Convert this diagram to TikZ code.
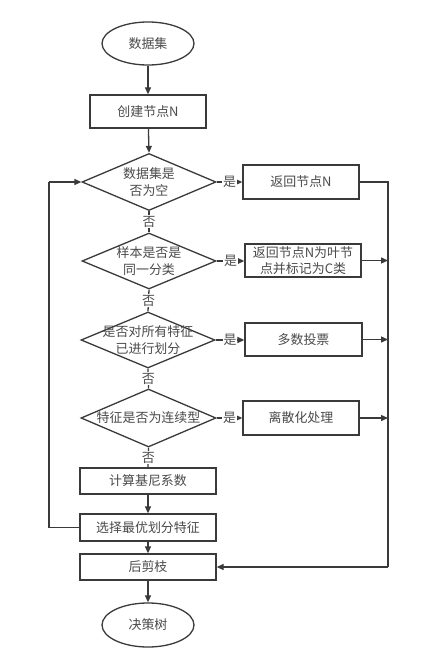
\documentclass[tikz,border=0pt]{standalone}
\usepackage{fontspec}
\newfontfamily\cjk{Noto Sans CJK SC}
\usetikzlibrary{shapes.geometric,arrows.meta}
\definecolor{ln}{HTML}{3A3A3A}
\definecolor{tx}{HTML}{4A4A4A}
\begin{document}
\begin{tikzpicture}[x=1bp,y=-1bp,
  every node/.style={font=\cjk\fontsize{13}{16.5}\selectfont, text=tx},
  conn/.style={draw=ln, line width=1.3bp},
  arr/.style={conn, -{Triangle[length=7bp,width=6bp]}},
  oval/.style={ellipse, draw=ln, line width=1.3bp, inner sep=0pt},
  boxx/.style={rectangle, draw=ln, line width=1.3bp, inner sep=0pt},
  dia/.style={diamond, draw=ln, line width=1.3bp, inner sep=0pt},
  txt/.style={inner sep=0pt, align=center},
  lab/.style={fill=white, inner sep=1bp}
]
\fill[white] (0,0) rectangle (428,672);
\useasboundingbox (0,0) rectangle (428,672);

% main column
\node[oval, minimum width=92bp, minimum height=43bp] (e1) at (148,43.5) {数据集};
\node[boxx, minimum width=116bp, minimum height=33bp] (b1) at (148,111.5) {创建节点N};
\node[dia, minimum width=134bp, minimum height=57bp] (d1) at (149,182) {};
\node[txt] (t1) at (149,182) {数据集是\\否为空};
\node[dia, minimum width=134bp, minimum height=56bp] (d2) at (149,261) {};
\node[txt] (t2) at (149,261) {样本是否是\\同一分类};
\node[dia, minimum width=134bp, minimum height=56bp] (d3) at (148,340) {};
\node[txt] (t3) at (148,340) {是否对所有特征\\已进行划分};
\node[dia, minimum width=135bp, minimum height=58bp] (d4) at (148.5,418) {};
\node[txt] (t4) at (148.5,418) {特征是否为连续型};
\node[boxx, minimum width=136bp, minimum height=26bp] (b2) at (148,481) {计算基尼系数};
\node[boxx, minimum width=136bp, minimum height=27bp] (b3) at (148,527.5) {选择最优划分特征};
\node[boxx, minimum width=136bp, minimum height=26bp] (b4) at (148,567) {后剪枝};
\node[oval, minimum width=92bp, minimum height=44bp] (e2) at (148,625) {决策树};

% right column
\node[boxx, minimum width=116bp, minimum height=34bp] (r1) at (301,182) {返回节点N};
\node[boxx, minimum width=116bp, minimum height=33bp, align=center] (r2) at (303,260.5) {返回节点N为叶节\\点并标记为C类};
\node[boxx, minimum width=117bp, minimum height=33bp] (r3) at (303.5,339.5) {多数投票};
\node[boxx, minimum width=116bp, minimum height=34bp] (r4) at (301,418) {离散化处理};

\coordinate (bus1) at (388,182);
\coordinate (bus2) at (388,260.5);
\coordinate (bus3) at (388,339.5);
\coordinate (bus4) at (388,418);
\coordinate (bus5) at (388,567);
\coordinate (loopb) at (49,527.5);
\coordinate (loopt) at (49,182);

% vertical flow
\draw[arr] (e1) -- (b1);
\draw[arr] (b1) -- (d1.north);
\draw[conn] (d1.south) -- node[lab] (n1) {否} (d2.north);
\draw[conn] (d2.south) -- node[lab] (n2) {否} (d3.north);
\draw[conn] (d3.south) -- node[lab] (n3) {否} (d4.north);
\draw[conn] (d4.south) -- node[lab] (n4) {否} (b2.north);
\draw[arr] (b2) -- (b3);
\draw[arr] (b3) -- (b4);
\draw[arr] (b4) -- (e2);

% yes branches
\draw[arr] (d1.east) -- node[lab] (y1) {是} (r1.west);
\draw[arr] (d2.east) -- node[lab] (y2) {是} (r2.west |- d2.east);
\draw[arr] (d3.east) -- node[lab] (y3) {是} (r3.west |- d3.east);
\draw[arr] (d4.east) -- node[lab] (y4) {是} (r4.west);

% right bus
\draw[conn] (r1.east) -- (bus1) -- (bus5);
\draw[arr] (bus5) -- (b4.east);
\draw[arr] (r2.east) -- (bus2);
\draw[arr] (r3.east) -- (bus3);
\draw[arr] (r4.east) -- (bus4);

% loop back
\draw[conn] (b3.west) -- (loopb) -- (loopt);
\draw[arr] (loopt) -- (d1.west);
\end{tikzpicture}
\end{document}
